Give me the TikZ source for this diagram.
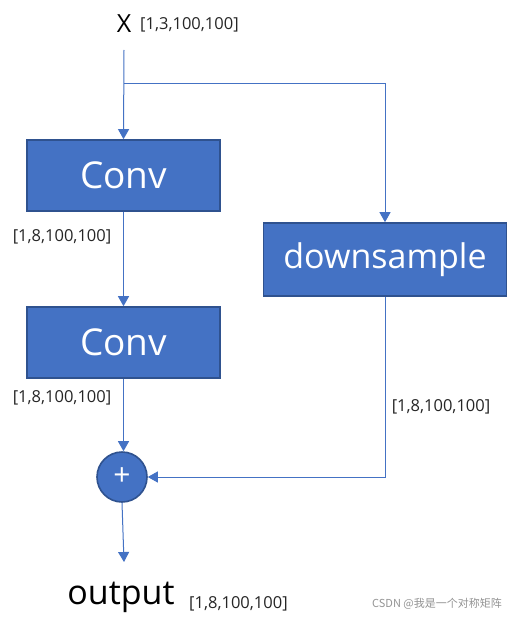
\documentclass[tikz,border=0pt]{standalone}
\usepackage{fontspec}
\setmainfont{Open Sans}
\newfontfamily\cjkfont{Noto Sans CJK SC}
\usepackage{tikz}
\usetikzlibrary{arrows.meta}

\definecolor{boxblue}{HTML}{4472C4}
\definecolor{boxedge}{HTML}{2F528F}
\definecolor{lblgray}{HTML}{262626}

\begin{document}
\begin{tikzpicture}[
  x=1pt, y=-1pt,
  >={Triangle[length=10pt,width=11pt]},
  block/.style={rectangle, draw=boxedge, fill=boxblue, line width=1.6pt,
                text=white, inner sep=0pt,
                font=\fontsize{37}{44}\selectfont},
  adder/.style={circle, draw=boxedge, fill=boxblue, line width=1.6pt,
                minimum size=50pt, inner sep=0pt, text=white,
                font=\fontsize{30}{30}\selectfont},
  flow/.style={->, draw=boxblue, line width=1pt},
  dims/.style={text=lblgray, inner sep=0pt, font=\fontsize{16.5}{20}\selectfont},
]

% --- fixed bounding box (white background) ---
\fill[white] (0,0) rectangle (517,618);

% ============================ NODES =================================
% input
\node[inner sep=0pt, font=\fontsize{25}{30}\selectfont] (xin) at (124,24) {X};
\node[dims, anchor=west] (xdims) at (140,25) {[1,3,100,100]};
\coordinate (xfoot) at (124,50);
\coordinate (split) at (124,83);

% main branch
\node[block, minimum width=193pt, minimum height=71pt] (conv1)
  at (123.5,175.5) {Conv};
\node[dims] (c1dims) at (62,237) {[1,8,100,100]};
\node[block, minimum width=193pt, minimum height=71pt] (conv2)
  at (123.5,342.5) {Conv};
\node[dims] (c2dims) at (62,398) {[1,8,100,100]};

% shortcut branch
\node[block, minimum width=243pt, minimum height=73pt,
      font=\fontsize{34}{40}\selectfont] (down)
  at (385,259.5) {downsample};
\node[dims] (ddims) at (441,407) {[1,8,100,100]};

% sum and output
\node[adder] (sum) at (122,477) {+};
\coordinate (outtip) at (124,562);
\node[inner sep=0pt, font=\fontsize{34}{40}\selectfont] (out)
  at (121,597) {output};
\node[dims, anchor=west] (odims) at (189,604) {[1,8,100,100]};

% watermark
\node[text=black!42, inner sep=0pt, font=\cjkfont\fontsize{11}{13}\selectfont]
  (mark) at (437,604) {CSDN @我是一个对称矩阵};

% ============================ EDGES =================================
\draw[flow] (xfoot) -- (conv1.north);
\draw[flow] (split) -| (down.north);
\draw[flow] (conv1.south) -- (conv2.north);
\draw[flow] (conv2.south) -- (conv2.south |- sum.north);
\draw[flow] (down.south) |- (sum.east);
\draw[flow] (sum.south) -- (outtip);

\end{tikzpicture}
\end{document}
